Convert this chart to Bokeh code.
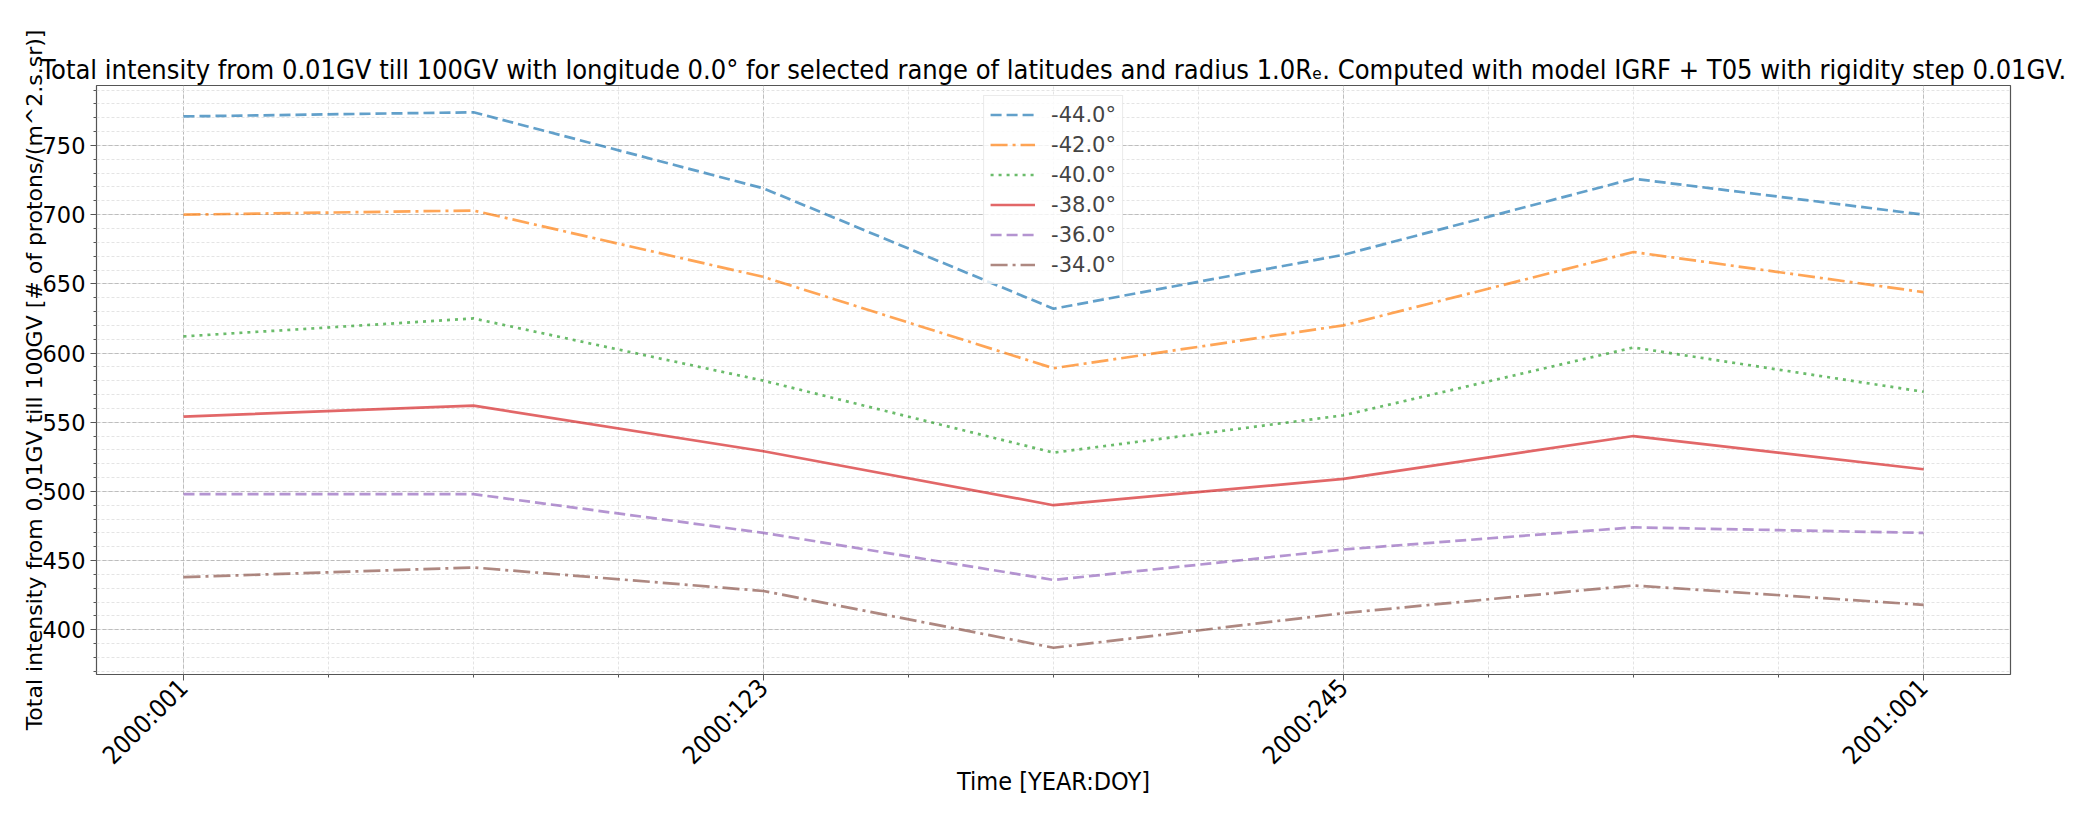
import numpy as np
from bokeh.plotting import figure
from bokeh.models import Range1d, FixedTicker, Legend, LegendItem
from bokeh.embed import file_html
from bokeh.resources import INLINE

# ---------------- data ----------------
days = [1, 62, 123, 184, 245, 306, 367]
tick_days = [1, 123, 245, 367]
tick_labels = ["2000:001", "2000:123", "2000:245", "2001:001"]

latitudes = ["-44.0°", "-42.0°", "-40.0°", "-38.0°", "-36.0°", "-34.0°"]
lat_m44 = [771, 774, 719, 632, 671, 726, 700]
lat_m42 = [700, 703, 655, 589, 620, 673, 644]
lat_m40 = [612, 625, 580, 528, 555, 604, 572]
lat_m38 = [554, 562, 529, 490, 509, 540, 516]
lat_m36 = [498, 498, 470, 436, 458, 474, 470]
lat_m34 = [438, 445, 428, 387, 412, 432, 418]
series = [lat_m44, lat_m42, lat_m40, lat_m38, lat_m36, lat_m34]

colors = ["#1f77b4", "#ff7f0e", "#2ca02c", "#d62728", "#9467bd", "#8c564b"]
dashes = ["11 5", "17 5 3 5", "3 5", "solid", "11 5", "17 5 3 5"]

title_text = ("Total intensity from 0.01GV till 100GV with longitude 0.0° for selected range "
              "of latitudes and radius 1.0Rₑ. Computed with model IGRF + T05 with rigidity step 0.01GV.")

# ---------------- ranges ----------------
allv = np.concatenate([np.array(s, dtype=float) for s in series])
ymin, ymax = allv.min(), allv.max()
yspan = ymax - ymin
xspan = days[-1] - days[0]

p = figure(frame_width=1914, frame_height=589, output_backend="svg", toolbar_location=None,
           x_range=Range1d(days[0] - 0.05 * xspan, days[-1] + 0.05 * xspan),
           y_range=Range1d(ymin - 0.05 * yspan, ymax + 0.05 * yspan),
           min_border_left=96, min_border_right=67, min_border_top=85, min_border_bottom=127)

p.title.text = title_text
p.title.align = "center"
p.title.text_font = "DejaVu Sans Condensed"
p.title.text_font_size = "27px"
p.title.text_font_style = "normal"
p.title.text_color = "black"
p.title.standoff = 2

renderers = []
for s, c, d in zip(series, colors, dashes):
    r = p.line(days, s, line_color=c, line_alpha=0.7, line_width=2.7, line_dash=d, line_cap="butt")
    renderers.append(r)

legend = Legend(items=[LegendItem(label=l, renderers=[r]) for l, r in zip(latitudes, renderers)],
                location="top_center")
legend.label_text_font = "DejaVu Sans"
legend.label_text_font_size = "21px"
legend.glyph_width = 45
legend.glyph_height = 25
legend.label_height = 25
legend.spacing = 5
legend.padding = 6
legend.margin = 10
legend.label_standoff = 16
legend.border_line_color = "#d8d8d8"
legend.border_line_width = 1
legend.background_fill_alpha = 0.8
p.add_layout(legend)

# axes
p.xaxis.ticker = FixedTicker(ticks=tick_days,
                             minor_ticks=list(np.arange(days[0], days[-1] + 1, xspan / 12)))
p.xaxis.major_label_overrides = {d: l for d, l in zip(tick_days, tick_labels)}
p.xaxis.major_label_orientation = np.pi / 4
p.yaxis.ticker = FixedTicker(ticks=list(range(400, 800, 50)), minor_ticks=list(range(370, 800, 10)))

for ax in (p.xaxis[0], p.yaxis[0]):
    ax.axis_line_color = None
    ax.major_tick_line_color = "#555555"
    ax.minor_tick_line_color = "#555555"
    ax.major_tick_out = 6
    ax.major_tick_in = 0
    ax.minor_tick_out = 3
    ax.minor_tick_in = 0
    ax.major_label_text_color = "black"
    ax.axis_label_text_font_style = "normal"
    ax.axis_label_text_color = "black"

p.yaxis.major_label_text_font = "DejaVu Sans"
p.yaxis.major_label_text_font_size = "22.5px"
p.xaxis.major_label_text_font = "DejaVu Sans Condensed"
p.xaxis.major_label_text_font_size = "25px"
p.xaxis.major_label_standoff = 3

p.xaxis.axis_label = "Time [YEAR:DOY]"
p.xaxis.axis_label_text_font = "DejaVu Sans Condensed"
p.xaxis.axis_label_text_font_size = "25px"
p.xaxis.axis_label_standoff = -16
p.yaxis.axis_label = "Total intensity from 0.01GV till 100GV [# of protons/(m^2.s.sr)]"
p.yaxis.axis_label_text_font = "DejaVu Sans"
p.yaxis.axis_label_text_font_size = "22px"
p.yaxis.axis_label_standoff = -7

p.outline_line_color = "#555555"
p.outline_line_width = 1.2

p.xgrid.grid_line_color = "#b0b0b0"
p.xgrid.grid_line_dash = "4 2"
p.xgrid.grid_line_alpha = 0.8
p.ygrid.grid_line_color = "#b0b0b0"
p.ygrid.grid_line_dash = "4 2"
p.ygrid.grid_line_alpha = 0.8
p.xgrid.minor_grid_line_color = "#e4e4e4"
p.xgrid.minor_grid_line_dash = "3 2"
p.ygrid.minor_grid_line_color = "#e4e4e4"
p.ygrid.minor_grid_line_dash = "3 2"

open("out.html", "w").write(file_html(p, INLINE))
